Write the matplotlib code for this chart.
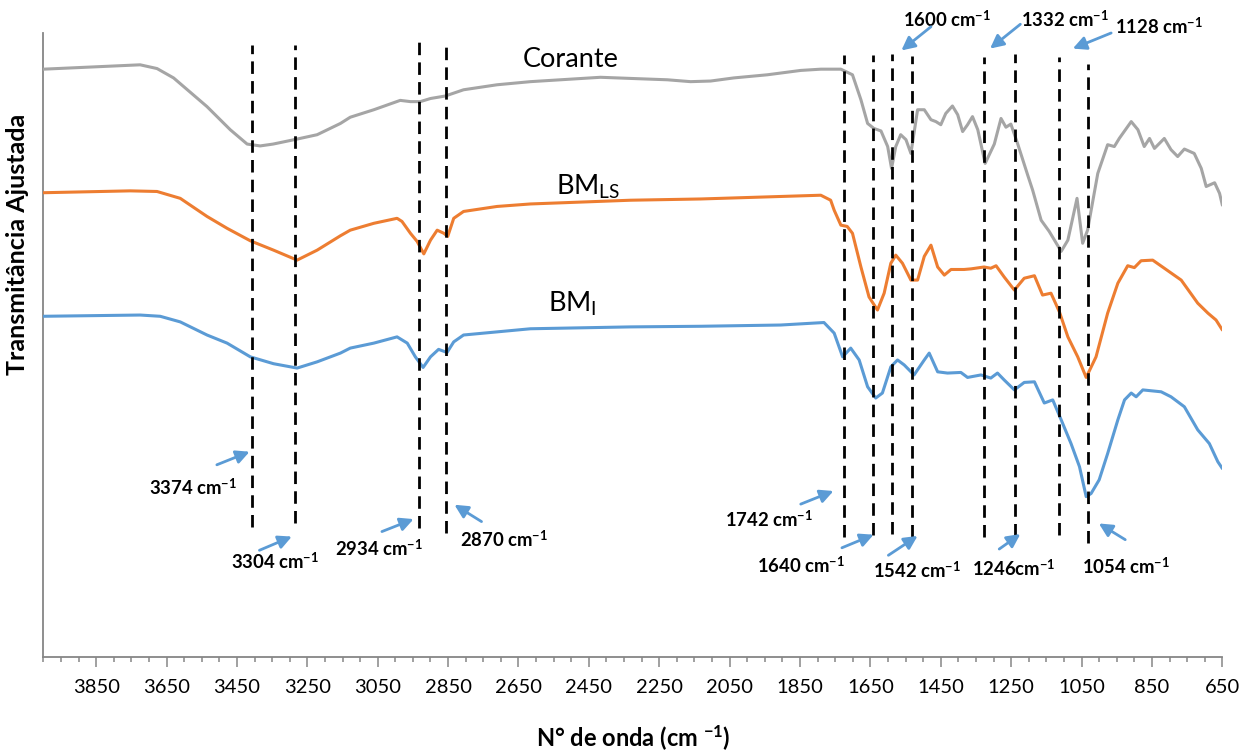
import numpy as np
import matplotlib
matplotlib.use("Agg")
import matplotlib.pyplot as plt
from matplotlib.ticker import MultipleLocator, FixedLocator

plt.rcParams['font.family'] = ['Lato', 'DejaVu Sans']
plt.rcParams['mathtext.fontset'] = 'custom'
plt.rcParams['mathtext.rm'] = 'Lato'
plt.rcParams['mathtext.it'] = 'Lato:italic'
plt.rcParams['mathtext.bf'] = 'Lato:bold'

# ---------------- data (wavenumber cm-1, adjusted transmittance, a.u.) -------------
wn_corante = [4000, 3725, 3677, 3630, 3535, 3469, 3421, 3384, 3347, 3279, 3222, 3156, 3128,
              3061, 2986, 2957, 2929, 2900, 2858, 2806, 2711, 2616, 2417, 2323, 2227, 2161,
              2104, 2038, 1943, 1848, 1791, 1734, 1701, 1677, 1658, 1640, 1620, 1601, 1590,
              1578, 1564, 1549, 1535, 1516, 1497, 1478, 1464, 1450, 1436, 1417, 1402, 1388,
              1374, 1360, 1345, 1324, 1298, 1279, 1265, 1251, 1232, 1203, 1189, 1165, 1142,
              1108, 1089, 1063, 1047, 1033, 1004, 976, 957, 943, 909, 890, 872, 857, 843,
              815, 796, 777, 758, 730, 710, 696, 672, 658, 650]
t_corante = [94.2, 94.9, 94.3, 92.8, 88.2, 84.5, 82.2, 81.9, 82.2, 83.0, 83.7, 85.5, 86.5,
             87.7, 89.2, 89.0, 89.0, 89.5, 89.9, 90.9, 91.7, 92.2, 92.9, 92.7, 92.5, 92.2,
             92.3, 92.8, 93.3, 94.0, 94.2, 94.2, 93.3, 89.3, 85.5, 84.7, 84.3, 81.8, 78.3,
             81.8, 83.7, 82.9, 80.7, 87.7, 87.7, 86.1, 85.8, 85.3, 87.1, 88.3, 86.9, 84.2,
             85.3, 86.6, 84.5, 79.1, 82.2, 86.3, 84.9, 85.4, 82.3, 77.2, 74.8, 70.0, 68.2,
             65.0, 66.8, 73.5, 66.3, 68.4, 77.5, 82.1, 81.8, 83.1, 85.8, 84.5, 81.8, 83.1,
             81.5, 83.1, 81.3, 80.2, 81.4, 80.7, 78.3, 75.4, 76.0, 74.3, 72.4]

wn_bmls = [4000, 3753, 3677, 3611, 3535, 3478, 3412, 3346, 3279, 3222, 3156, 3128, 3061,
           2995, 2981, 2957, 2938, 2919, 2900, 2881, 2862, 2851, 2834, 2806, 2711, 2616,
           2331, 2132, 1905, 1791, 1763, 1753, 1734, 1716, 1701, 1677, 1654, 1630, 1611,
           1592, 1578, 1559, 1535, 1516, 1497, 1478, 1459, 1440, 1421, 1384, 1364, 1327,
           1308, 1293, 1270, 1241, 1213, 1184, 1161, 1137, 1113, 1089, 1061, 1037, 1009,
           976, 947, 919, 900, 881, 848, 815, 767, 720, 691, 668, 650]
t_bmls = [74.4, 74.7, 74.6, 73.5, 70.6, 68.7, 66.7, 65.2, 63.6, 65.2, 67.5, 68.4, 69.5,
          70.3, 69.8, 67.9, 66.6, 64.6, 66.8, 68.4, 67.9, 67.4, 70.3, 71.4, 72.2, 72.6,
          73.2, 73.4, 73.8, 74.0, 73.2, 71.6, 69.2, 69.0, 67.9, 62.5, 57.7, 55.6, 58.3,
          63.1, 64.4, 63.1, 60.4, 60.4, 64.2, 66.0, 62.5, 61.2, 62.1, 62.1, 62.2, 62.5,
          62.3, 62.7, 60.9, 58.8, 60.7, 61.1, 58.0, 58.3, 55.3, 51.3, 48.1, 44.8, 48.1,
          55.1, 59.9, 62.7, 62.4, 63.5, 63.6, 62.3, 60.4, 56.7, 55.1, 54.0, 52.4]

wn_bmi = [4000, 3725, 3668, 3611, 3535, 3478, 3412, 3346, 3279, 3222, 3156, 3128, 3061,
          2995, 2966, 2943, 2921, 2900, 2877, 2853, 2834, 2806, 2711, 2616, 2331, 2132,
          1905, 1782, 1753, 1729, 1706, 1682, 1658, 1635, 1616, 1592, 1573, 1554, 1526,
          1497, 1483, 1459, 1431, 1393, 1374, 1336, 1308, 1289, 1270, 1241, 1213, 1184,
          1156, 1132, 1108, 1080, 1056, 1037, 1023, 1000, 976, 947, 928, 909, 895, 876,
          824, 796, 758, 720, 687, 663, 650]
t_bmi = [54.6, 54.8, 54.6, 53.7, 51.6, 50.3, 48.1, 47.0, 46.3, 47.3, 48.7, 49.5, 50.3,
         51.3, 50.3, 48.1, 46.4, 48.1, 49.3, 48.8, 50.5, 51.6, 52.1, 52.6, 52.9, 53.0,
         53.2, 53.6, 51.9, 48.1, 49.5, 47.6, 43.3, 41.5, 42.3, 46.5, 47.6, 46.8, 45.2,
         47.6, 48.7, 45.7, 45.5, 45.6, 44.8, 45.2, 44.7, 45.5, 44.4, 42.8, 44.0, 44.1,
         40.7, 41.2, 38.0, 34.2, 30.5, 25.7, 26.2, 28.4, 32.6, 38.0, 41.2, 42.3, 41.7,
         42.8, 42.5, 41.7, 40.1, 36.4, 34.2, 31.3, 30.2]

series_names = ["Corante", "BM$_{\\mathregular{LS}}$", "BM$_{\\mathregular{I}}$"]
series_colors = ["#A5A5A5", "#ED7D31", "#5B9BD5"]

# marker lines (position drawn, label text)
band_lines = [3406, 3284, 2933, 2857, 1726, 1642, 1590, 1533, 1328, 1240, 1113, 1033]
band_tops = [98.1, 98.1, 98.6, 97.8, 96.5, 96.5, 96.6, 96.3, 96.2, 96.6, 96.2, 95.0]
band_bottoms = [20.8, 21.5, 20.7, 19.9, 19.2, 19.6, 19.7, 19.2, 19.2, 19.4, 19.6, 18.3]

band_labels = ["3374", "3304", "2934", "2870", "1742", "1640", "1542", "1246", "1054",
               "1600", "1332", "1128"]
label_xy = [(3576, 27.1), (3342, 15.3), (3046, 17.3), (2690, 18.9), (1938, 22.0),
            (1846, 14.7), (1517, 13.9), (1244, 14.2), (924, 14.5), (1433, 102.1),
            (1098, 102.1), (829, 101.0)]
arrow_tail = [(3507, 30.8), (3386, 17.1), (3038, 20.1), (2755, 21.7), (1848, 24.5),
              (1731, 17.5), (1599, 16.3), (1284, 17.3), (926, 18.8), (1478, 101.0),
              (1224, 101.4), (966, 100.0)]
arrow_head = [(3414, 32.9), (3294, 19.3), (2948, 22.1), (2832, 24.4), (1755, 26.6),
              (1641, 19.6), (1516, 19.4), (1224, 19.7), (1001, 21.4), (1562, 97.2),
              (1310, 97.5), (1075, 97.5)]

name_xy = [(2502, 95.7), (2451, 75.4), (2496, 56.6)]

# ---------------- figure ----------------
fig = plt.figure(figsize=(12.42, 7.53), dpi=100)
ax = fig.add_axes([0.0349, 0.1275, 0.9493, 0.8287])

for wn, t, c in zip([wn_corante, wn_bmls, wn_bmi], [t_corante, t_bmls, t_bmi], series_colors):
    ax.plot(wn, t, color=c, lw=2.2, solid_joinstyle='round', solid_capstyle='round', zorder=3)

for xb, yt, yb in zip(band_lines, band_tops, band_bottoms):
    ax.plot([xb, xb], [yb, yt], color='black', lw=2.0, dashes=(4.5, 2.6), zorder=4)

for lab, (tx, ty), (ax0, ay0), (hx, hy) in zip(band_labels, label_xy, arrow_tail, arrow_head):
    if lab == "1246":
        s = lab + "cm$^{\\mathbf{-1}}$"
    else:
        s = lab + " cm$^{\\mathbf{-1}}$"
    ax.text(tx, ty, s, ha='center', va='center', fontsize=13.3, fontweight='bold',
            clip_on=False, zorder=5)
    ax.annotate("", xy=(hx, hy), xytext=(ax0, ay0),
                arrowprops=dict(arrowstyle='-|>', color='#5B9BD5', lw=2.0,
                                mutation_scale=20, shrinkA=0, shrinkB=0),
                annotation_clip=False, zorder=5)

for nm, (nx, ny) in zip(series_names, name_xy):
    ax.text(nx, ny, nm, ha='center', va='center', fontsize=19.5, color='black', zorder=5)

ax.set_xlim(4000, 650)
ax.set_ylim(0, 100)
ax.xaxis.set_major_locator(FixedLocator(np.arange(3850, 649, -200)))
ax.xaxis.set_minor_locator(MultipleLocator(50))
ax.set_yticks([])
for side in ['top', 'right']:
    ax.spines[side].set_visible(False)
for side in ['left', 'bottom']:
    ax.spines[side].set_color('#868686')
    ax.spines[side].set_linewidth(1.3)
ax.tick_params(axis='x', which='major', direction='out', length=7.2, width=1.1,
               color='#868686', labelsize=14.5, pad=9, labelcolor='black')
ax.tick_params(axis='x', which='minor', direction='out', length=3.6, width=1.1,
               color='#868686')

ax.set_xlabel("N° de onda (cm $^{\\mathbf{-1}}$)", fontsize=17, fontweight='bold',
              labelpad=19)
ax.set_ylabel("Transmitância Ajustada", fontsize=18, fontweight='bold')
ax.yaxis.set_label_coords(-0.0125, 0.662)

fig.savefig("out.png", dpi=100)
